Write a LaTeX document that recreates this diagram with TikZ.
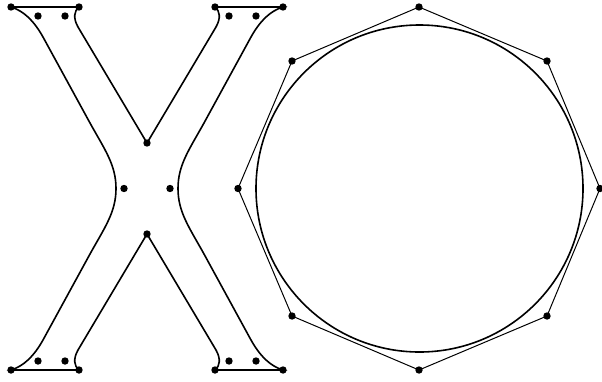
\documentclass[tikz,border=0pt]{standalone}
\begin{document}
\begin{tikzpicture}[x=1pt, y=-1pt,
    ctrl/.style={circle, fill=black, inner sep=0pt, minimum size=7.4pt},
    curve/.style={line width=1.6pt},
    polygon/.style={line width=1pt}]
    \useasboundingbox (0, 0) rectangle (602, 381);

    % --- Left shape: control points ---
    \node[ctrl] (tl1) at (11, 7) {};
    \node[ctrl] (tl2) at (38, 16) {};
    \node[ctrl] (tl3) at (65, 16) {};
    \node[ctrl] (tl4) at (79, 7) {};
    \node[ctrl] (tr1) at (215, 7) {};
    \node[ctrl] (tr2) at (229, 16) {};
    \node[ctrl] (tr3) at (256, 16) {};
    \node[ctrl] (tr4) at (283, 7) {};
    \node[ctrl] (mt) at (147, 143) {};
    \node[ctrl] (ml) at (124, 188.5) {};
    \node[ctrl] (mr) at (170, 188.5) {};
    \node[ctrl] (mb) at (147, 234) {};
    \node[ctrl] (bl1) at (11, 370) {};
    \node[ctrl] (bl2) at (38, 361) {};
    \node[ctrl] (bl3) at (65, 361) {};
    \node[ctrl] (bl4) at (79, 370) {};
    \node[ctrl] (br1) at (215, 370) {};
    \node[ctrl] (br2) at (229, 361) {};
    \node[ctrl] (br3) at (256, 361) {};
    \node[ctrl] (br4) at (283, 370) {};

    % --- Left shape: outline ---
    \draw[curve] (tl1.center) -- (tl4.center)
      .. controls (74, 11) and (73, 18) .. (78, 27) -- (mt.center)
      -- (216, 27) .. controls (221, 18) and (220, 11) .. (tr1.center)
      -- (tr4.center)
      .. controls (270, 11) and (260, 21) .. (251, 37) -- (204, 123)
      .. controls (189, 150) and (178, 165) .. (178, 188.5)
      .. controls (178, 212) and (189, 227) .. (204, 254) -- (251, 340)
      .. controls (260, 356) and (270, 366) .. (br4.center)
      -- (br1.center)
      .. controls (220, 366) and (221, 359) .. (216, 350) -- (mb.center)
      -- (78, 350) .. controls (73, 359) and (74, 366) .. (bl4.center)
      -- (bl1.center)
      .. controls (24, 366) and (34, 356) .. (43, 340) -- (90, 254)
      .. controls (105, 227) and (116, 212) .. (116, 188.5)
      .. controls (116, 165) and (105, 150) .. (90, 123) -- (43, 37)
      .. controls (34, 21) and (24, 11) .. (tl1.center);

    % --- Right shape: control polygon ---
    \node[ctrl] (o1) at (419, 7) {};
    \node[ctrl] (o2) at (547, 61) {};
    \node[ctrl] (o3) at (600, 188.5) {};
    \node[ctrl] (o4) at (547, 316) {};
    \node[ctrl] (o5) at (419, 370) {};
    \node[ctrl] (o6) at (292, 316) {};
    \node[ctrl] (o7) at (238, 188.5) {};
    \node[ctrl] (o8) at (292, 61) {};
    \draw[polygon] (o1.center) -- (o2.center) -- (o3.center) -- (o4.center)
      -- (o5.center) -- (o6.center) -- (o7.center) -- (o8.center) -- cycle;

    % --- Right shape: curve ---
    \coordinate (c) at (419.5, 188.5);
    \draw[curve] (c) circle (163.5);
\end{tikzpicture}
\end{document}
